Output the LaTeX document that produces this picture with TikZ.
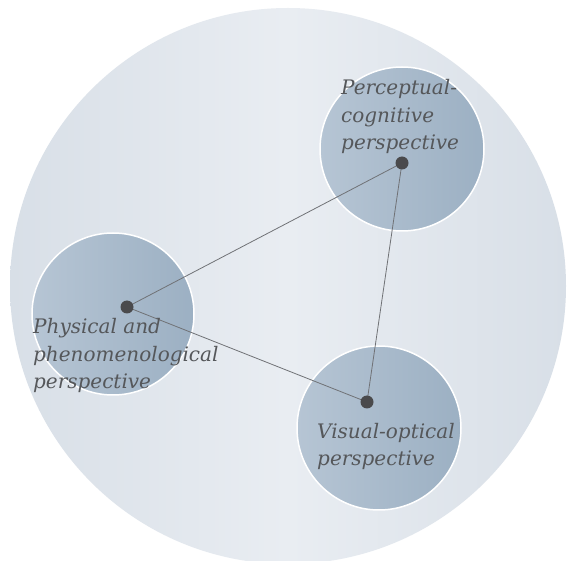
\documentclass[tikz,border=0pt]{standalone}
\usepackage{fontspec}
\setmainfont{DejaVu Serif}
\begin{document}
\begin{tikzpicture}[x=1pt,y=-1pt,
  outer/.style={left color=bgedge,right color=bgedge,middle color=bgmid},
  lens/.style={draw=white,line width=1.5pt,left color=lensleft,right color=lensright},
  hub/.style={circle,fill=hubgray,inner sep=0pt,minimum size=13pt},
  link/.style={draw=linkgray,line width=0.8pt},
  caption/.style={anchor=base west,align=left,text=txtgray,inner sep=0pt,
    font=\fontsize{20}{27.5}\selectfont\itshape}]
\definecolor{bgedge}{HTML}{D8DFE7}
\definecolor{bgmid}{HTML}{E9EDF2}
\definecolor{lensleft}{HTML}{B6C5D4}
\definecolor{lensright}{HTML}{9CB0C3}
\definecolor{hubgray}{HTML}{4A4A4C}
\definecolor{linkgray}{HTML}{707276}
\definecolor{txtgray}{HTML}{55575A}
\useasboundingbox (0,0) rectangle (571,561);
\fill[white] (0,0) rectangle (571,561);
\begin{scope}
  \clip (0,0) rectangle (571,561);
  \shade[outer] (288,286) circle (278);
\end{scope}
% the three perspectives
\shade[lens] (402,149) circle (82);
\shade[lens] (113,314) circle (81);
\shade[lens] (379,428) circle (82);
% centre points and their links
\coordinate (pc) at (402,163);
\coordinate (ph) at (127,307);
\coordinate (vo) at (367,402);
\draw[link] (ph) -- (pc);
\draw[link] (pc) -- (vo);
\draw[link] (ph) -- (vo);
\node[hub] (pcdot) at (pc) {};
\node[hub] (phdot) at (ph) {};
\node[hub] (vodot) at (vo) {};
% labels, anchored at the baseline of their last line
\node[caption] (tpc) at (341,150) {Perceptual-\\cognitive\\perspective};
\node[caption] (tph) at (33,389) {Physical and\\phenomenological\\perspective};
\node[caption] (tvo) at (317,466) {Visual-optical\\perspective};
\end{tikzpicture}
\end{document}
